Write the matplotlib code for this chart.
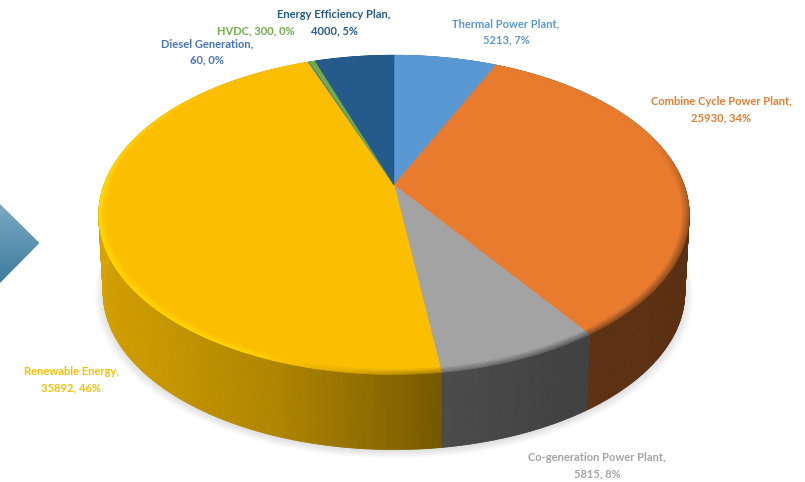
import numpy as np
import matplotlib
matplotlib.use("Agg")
import matplotlib.pyplot as plt
from matplotlib.colors import LinearSegmentedColormap, to_rgb
from matplotlib.patches import Polygon

# Installed capacity by plan, clockwise from twelve o'clock
names = ["Thermal Power Plant", "Combine Cycle Power Plant", "Co-generation Power Plant",
         "Renewable Energy", "Diesel Generation", "HVDC", "Energy Efficiency Plan"]
values = [5213, 25930, 5815, 35892, 60, 300, 4000]
colors = ["#5A98D3", "#E97B2F", "#A3A3A3", "#FBBE00", "#4472C4", "#70AD47", "#255A8C"]
label_centers = [(506, 32), (721, 110), (597, 466), (71, 380), (207, 52), (256, 31), (334, 23)]

CX, CY = 394, 185      # pie apex in pixels
A, B, K = 290, 154, 0.187  # perspective of the tilted disc
SHRINK, DEPTH = 0.985, 78  # lower outline relative to the upper one
LINE_GAP = 8.3         # half the distance between the two lines of a label


def top(theta, r=1.0):
    """Project a polar point of the disc (clockwise degrees from top) to pixels."""
    t = np.radians(theta)
    x, y = r * np.sin(t), r * np.cos(t)
    d = 1 + K * y
    return CX + A * x / d, CY - B * y / d


def bottom(theta):
    x, y = top(theta)
    return CX + SHRINK * (x - CX), CY + SHRINK * (y - CY) + DEPTH


def scaled(color, f):
    return tuple(np.clip(np.array(to_rgb(color)) * f, 0, 1))


fig = plt.figure(figsize=(8.05, 4.82), dpi=100, facecolor="white")
ax = fig.add_axes([0, 0, 1, 1])
ax.set_axis_off()

# Chevron at the left edge
grad = np.linspace(0, 1, 90)[:, None] * np.ones((90, 60))
arrow_cmap = LinearSegmentedColormap.from_list("arrow", ["#7FACC3", "#3C7A9C"])
img = ax.imshow(grad, extent=(-2, 42, 285, 200), cmap=arrow_cmap, aspect="auto", zorder=1)
arrow = Polygon([(-2, 202), (39.5, 243), (-2, 285)], transform=ax.transData, fc="none", ec="none")
ax.add_patch(arrow)
img.set_clip_path(arrow)

# Soft shadow around the lower outline
ring = np.linspace(0, 360, 361)
bx, by = bottom(ring)
for grow in np.linspace(1.03, 1.0, 10):
    ax.fill(CX + grow * (bx - CX), CY + 40 + grow * (by - CY - 40) + 2, color="#808080",
            alpha=0.02, lw=0, zorder=2)

# Wedge boundaries derived from the values
total = sum(values)
edges = np.concatenate([[0], np.cumsum(values)]) / total * 360

# Wall shading and rim bevel as functions of the position around the disc
wall_a = [0, 90, 150, 172, 180, 200, 225, 270, 360]
wall_f = [0.6, 0.38, 0.40, 0.46, 0.54, 0.70, 0.80, 0.87, 0.87]
rim_a = [0, 70, 105, 150, 178, 205, 270, 320, 360]
rim_f = [1.0, 1.0, 0.66, 0.58, 0.72, 1.12, 1.15, 1.0, 1.0]

# Side wall
for i, c in enumerate(colors):
    start, stop = edges[i], edges[i + 1]
    steps = max(2, int((stop - start) / 0.5) + 1)
    th = np.linspace(start, stop, steps)
    for a0, a1 in zip(th[:-1], th[1:]):
        xa, ya = top(np.array([a0, a1]))
        xb, yb = bottom(np.array([a1, a0]))
        col = scaled(c, np.interp(0.5 * (a0 + a1), wall_a, wall_f))
        ax.fill(np.r_[xa, xb], np.r_[ya, yb], color=col, lw=0.6, zorder=3)

# Upper face with bevelled rim
bands = np.linspace(1.0, 0.975, 6)
for i, c in enumerate(colors):
    start, stop = edges[i], edges[i + 1]
    th = np.linspace(start, stop, max(2, int((stop - start) / 0.5) + 1))
    for j, (r0, r1) in enumerate(zip(bands[:-1], bands[1:])):
        w = 1 - j / (len(bands) - 1)
        for a0, a1 in zip(th[:-1], th[1:]):
            f = 1 + w * (np.interp(0.5 * (a0 + a1), rim_a, rim_f) - 1)
            xa, ya = top(np.array([a0, a1]), r0)
            xb, yb = top(np.array([a1, a0]), r1)
            ax.fill(np.r_[xa, xb], np.r_[ya, yb], color=scaled(c, f), lw=0.5, zorder=4)
    x, y = top(th, bands[-1])
    ax.fill(np.r_[CX, x], np.r_[CY, y], color=c, lw=0.4, zorder=5)

# Data labels, one text per line so the short second lines keep clear of neighbours
text_style = dict(ha="center", va="center", family="Lato", weight="bold", fontsize=8.0, zorder=6)
for name, v, c, (lx, ly) in zip(names, values, colors, label_centers):
    pct = round(100 * v / total)
    if name == "HVDC":
        ax.text(lx, ly, f"{name}, {v}, {pct}%", color=c, **text_style)
    else:
        ax.text(lx, ly - LINE_GAP, f"{name},", color=c, **text_style)
        ax.text(lx, ly + LINE_GAP, f"{v}, {pct}%", color=c, **text_style)

ax.set_xlim(0, 805)
ax.set_ylim(482, 0)
fig.savefig("out.png", dpi=100)
